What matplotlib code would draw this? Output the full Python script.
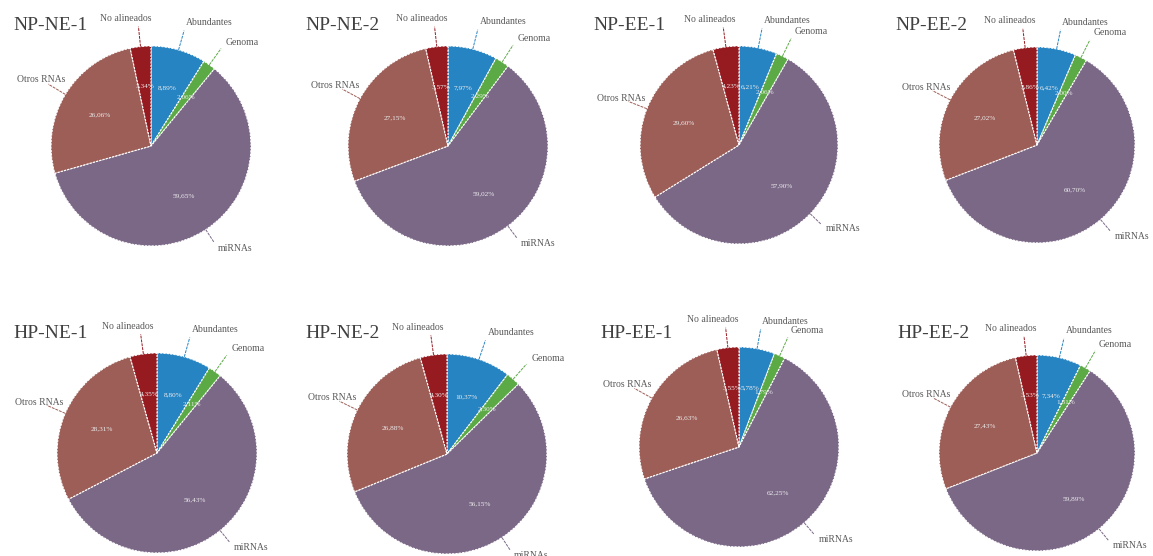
import numpy as np
import matplotlib
matplotlib.use("Agg")
import matplotlib.pyplot as plt

# Category names, in clockwise order from 12 o'clock
categories = ["Abundantes", "Genoma", "miRNAs", "Otros RNAs", "No alineados"]
colors = ["#2784C3", "#5CAA46", "#7B6887", "#9D5E57", "#961B21"]

# Sample names
samples = ["NP-NE-1", "NP-NE-2", "NP-EE-1", "NP-EE-2",
           "HP-NE-1", "HP-NE-2", "HP-EE-1", "HP-EE-2"]

# Percentages per sample (Abundantes, Genoma, miRNAs, Otros RNAs, No alineados)
np_ne_1 = [8.89, 2.06, 59.65, 26.06, 3.34]
np_ne_2 = [7.97, 2.29, 59.02, 27.15, 3.57]
np_ee_1 = [6.21, 2.06, 57.90, 29.60, 4.23]
np_ee_2 = [6.42, 2.00, 60.70, 27.02, 3.86]
hp_ne_1 = [8.80, 2.11, 56.43, 28.31, 4.35]
hp_ne_2 = [10.37, 2.30, 56.15, 26.88, 4.30]
hp_ee_1 = [5.78, 1.79, 62.25, 26.63, 3.55]
hp_ee_2 = [7.34, 1.81, 59.89, 27.43, 3.53]
series = [np_ne_1, np_ne_2, np_ee_1, np_ee_2, hp_ne_1, hp_ne_2, hp_ee_1, hp_ee_2]

W, H = 1153, 556
fig = plt.figure(figsize=(W / 100, H / 100), dpi=100)
ax = fig.add_axes([0, 0, 1, 1])

# Pie centres / radii in pixel units (y measured from the top)
centers = [(151, 146), (448, 146), (739, 145), (1037, 145),
           (157, 453), (447, 454), (739, 447), (1037, 453)]
radii = [100, 100, 99, 98, 100, 100, 100, 98]
title_pos = [(13, 25), (305, 25), (593, 25), (895, 25),
             (13, 333), (305, 333), (600, 333), (897, 333)]

serif = ["Liberation Serif", "DejaVu Serif"]

for name, vals, (cx, cy), r, (tx, ty) in zip(samples, series, centers, radii, title_pos):
    cyd = H - cy
    wedges, _ = ax.pie(vals, colors=colors, startangle=90, counterclock=False,
                       center=(cx, cyd), radius=r,
                       wedgeprops=dict(edgecolor="white", linewidth=0.8, linestyle=(0, (2, 1))))
    total = sum(vals)
    cum = 0.0
    for v, cat, col in zip(vals, categories, colors):
        mid = (cum + v / 2) / total * 2 * np.pi
        cum += v
        sx, sy = np.sin(mid), np.cos(mid)
        # value inside the slice
        ax.text(cx + 0.6 * r * sx, cyd + 0.6 * r * sy, f"{v:.2f}%".replace(".", ","),
                ha="center", va="center", fontsize=5.2, color="#EDEDED", family=serif)
        # leader line and category name outside
        outer = 1.15 if cat == "miRNAs" else 1.2
        lab = 1.22 if cat == "miRNAs" else 1.28
        ax.plot([cx + 1.0 * r * sx, cx + outer * r * sx],
                [cyd + 1.0 * r * sy, cyd + outer * r * sy],
                color=col, lw=0.7, linestyle=(0, (3, 1)))
        lx, ly = cx + lab * r * sx, cyd + lab * r * sy
        if cat == "No alineados":
            lx -= 12
            ha = "center"
        else:
            ha = "center" if sx < 0 else "left"
        ax.text(lx, ly, cat, ha=ha, va="center", fontsize=7, color="#595959", family=serif)
    ax.text(tx, H - ty, name, ha="left", va="center", fontsize=14, color="#404040", family=serif)

ax.set_xlim(0, W)
ax.set_ylim(0, H)
ax.set_aspect("equal")
ax.axis("off")
fig.savefig("out.png", dpi=100, facecolor="white")
